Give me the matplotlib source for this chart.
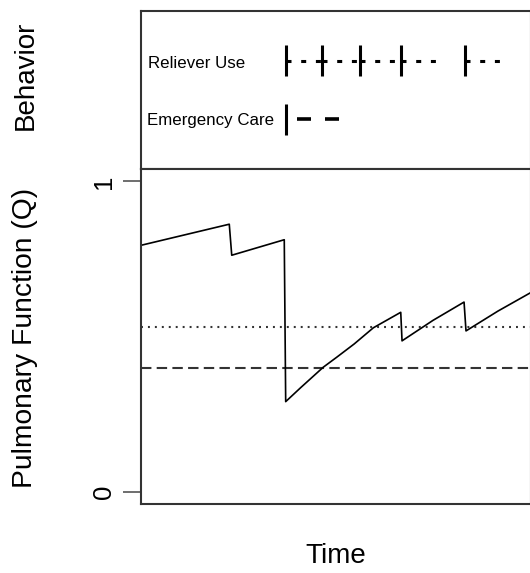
import matplotlib
matplotlib.use("Agg")
import matplotlib.pyplot as plt

plt.rcParams['font.family'] = ['Liberation Sans', 'DejaVu Sans']
plt.rcParams['lines.scale_dashes'] = False

# Pulmonary function trajectory (time, Q)
q_time = [0.0, 6.79, 6.98, 11.02, 11.13, 12.28, 14.02, 15.05, 16.40, 17.87, 19.98,
          20.08, 22.46, 24.85, 25.00, 27.46, 30.0]
q_value = [0.794, 0.862, 0.762, 0.812, 0.290, 0.335, 0.401, 0.433, 0.476, 0.528, 0.578,
           0.486, 0.552, 0.611, 0.518, 0.582, 0.642]

# Thresholds
upper_threshold = 0.53   # dotted
lower_threshold = 0.40   # dashed

# Behaviour events
reliever_times = [11.15, 13.90, 16.85, 20.00, 24.92]
reliever_duration = 2.9
emergency_times = [11.13]
emergency_duration = 4.1

behavior_rows = ["Reliever Use", "Emergency Care"]
row_pos = {"Reliever Use": 2, "Emergency Care": 1}

W, H = 530, 573
fig = plt.figure(figsize=(W / 100, H / 100), dpi=100)

def fx(px):
    return px / W

def fy(py):
    return 1 - py / H

left, right = 141, 531
top_y, mid_y, bot_y = 11, 169, 504

ax_top = fig.add_axes([fx(left), fy(mid_y), fx(right - left), (mid_y - top_y) / H])
ax_bot = fig.add_axes([fx(left), fy(bot_y), fx(right - left), (bot_y - mid_y) / H])

spine_col = '#333333'
for ax in (ax_top, ax_bot):
    for s in ax.spines.values():
        s.set_color(spine_col)
        s.set_linewidth(1.5)
    ax.set_xlim(0, 30)

# --- Behaviour panel ---
ax_top.set_ylim(0.16, 2.84)
ax_top.set_xticks([])
ax_top.set_yticks([])
tick_half = 0.26
px2pt = 0.72

y_rel = row_pos["Reliever Use"]
ax_top.vlines(reliever_times, y_rel - tick_half, y_rel + tick_half,
              colors='black', linewidth=2.2)
for t in reliever_times:
    ax_top.plot([t, t + reliever_duration], [y_rel, y_rel], color='black',
                linewidth=2.2, solid_capstyle='butt', dash_capstyle='butt',
                linestyle=(0, (5 * px2pt, 9.7 * px2pt)))

y_em = row_pos["Emergency Care"]
ax_top.vlines(emergency_times, y_em - tick_half, y_em + tick_half,
              colors='black', linewidth=2.2)
for t in emergency_times:
    ax_top.plot([t, t + emergency_duration], [y_em, y_em], color='black',
                linewidth=2.6, dash_capstyle='butt',
                linestyle=(17 * px2pt, (14 * px2pt, 14 * px2pt)))

ax_top.text(0.018, (mid_y - 67.8) / (mid_y - top_y), behavior_rows[0],
            transform=ax_top.transAxes, fontsize=12.2, va='baseline', ha='left')
ax_top.text(0.016, (mid_y - 125) / (mid_y - top_y), behavior_rows[1],
            transform=ax_top.transAxes, fontsize=12.2, va='baseline', ha='left')

# --- Pulmonary function panel ---
ax_bot.set_ylim(-0.04, 1.04)
ax_bot.set_xticks([])
ax_bot.set_yticks([0, 1])
ax_bot.set_yticklabels(['0', '1'], rotation=90, va='center')
ax_bot.tick_params(axis='y', length=13, width=1.2, color='#555555',
                   labelsize=18.5, pad=5)

ax_bot.axhline(upper_threshold, color='#333333', linewidth=1.5,
               linestyle=(0, (1.4, 3.6)))
ax_bot.axhline(lower_threshold, color='#333333', linewidth=1.5,
               linestyle=(0, (7.5, 3.8)))
ax_bot.plot(q_time, q_value, color='black', linewidth=1.2)

# Axis labels
fig.text(fx(25.5), fy(75), "Behavior", rotation=90, fontsize=20,
         ha='center', va='center')
fig.text(fx(25.5), fy(338), "Pulmonary Function (Q)", rotation=90, fontsize=20.3,
         ha='center', va='center')
fig.text(fx(336), fy(563), "Time", fontsize=20, ha='center', va='baseline')

fig.savefig("out.png", dpi=100)
